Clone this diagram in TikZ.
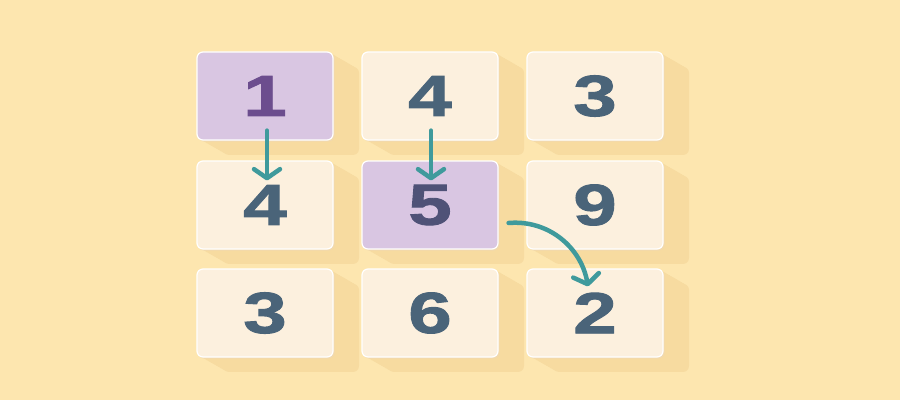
\documentclass[tikz,border=0pt]{standalone}
\usepackage{fontspec}
\setmainfont{Liberation Sans}
\newfontfamily\digitfont[FakeStretch=1.35, FakeBold=1.6]{Liberation Sans}
\usetikzlibrary{arrows.meta}
\definecolor{bgc}{HTML}{FDE6AF}
\definecolor{shadowc}{HTML}{F7DBA0}
\definecolor{cream}{HTML}{FCF0DE}
\definecolor{lilac}{HTML}{D9C6E2}
\definecolor{slate}{HTML}{4A6479}
\definecolor{plum}{HTML}{6C4D8E}
\definecolor{dusk}{HTML}{4F5277}
\definecolor{teal}{HTML}{3F9A9C}
\tikzset{
  cell/.style={rectangle, rounded corners=6pt, minimum width=136pt, minimum height=88pt, fill=cream, draw=white, line width=1.2pt, inner sep=0pt, text=slate, font=\digitfont\bfseries\fontsize{58}{58}\selectfont},
  picked/.style={cell, fill=lilac},
  flow/.style={draw=teal, line width=4.5pt, line cap=round, -{Straight Barb[length=9pt,width=26pt,round]}}
}
\begin{document}
\begin{tikzpicture}
[x=1pt, y=1pt]
\useasboundingbox [fill=bgc] (0,0) rectangle (900,400);
% long shadows behind the cells
\foreach \cx/\cy in {265/304, 430/304, 595/304, 265/195, 430/195, 595/195, 265/87, 430/87, 595/87}
  \foreach \t in {0,1,...,13}
    \fill [shadowc, rounded corners=6pt] (\cx-68+2*\t, \cy-44-1.15*\t) rectangle (\cx+68+2*\t, \cy+44-1.15*\t);
\foreach \cx/\cy in {265/304, 430/304, 595/304, 265/195, 430/195, 595/195, 265/87, 430/87, 595/87}
  \fill [shadowc!80!brown!70, rounded corners=6pt] (\cx-67, \cy-45.5) rectangle (\cx+69.5, \cy+43);
\node (c11) [picked, text=plum] at (265, 304) {1};
\node (c12) [cell] at (430, 304) {4};
\node (c13) [cell] at (595, 304) {3};
\node (c21) [cell] at (265, 195) {4};
\node (c22) [picked, text=dusk] at (430, 195) {5};
\node (c23) [cell] at (595, 195) {9};
\node (c31) [cell] at (265, 87) {3};
\node (c32) [cell] at (430, 87) {6};
\node (c33) [cell] at (595, 87) {2};
\draw [flow, shorten <=-10pt, shorten >=-20pt] ([xshift=2pt]c11.south) -- ([xshift=2pt]c21.north);
\draw [flow, shorten <=-10pt, shorten >=-20pt] ([xshift=1pt]c12.south) -- ([xshift=1pt]c22.north);
\draw [flow] ([shift={(10pt,-18pt)}]c22.east) to [out=5, in=100] ([shift={(-7pt,-18pt)}]c33.north);
\end{tikzpicture}
\end{document}
